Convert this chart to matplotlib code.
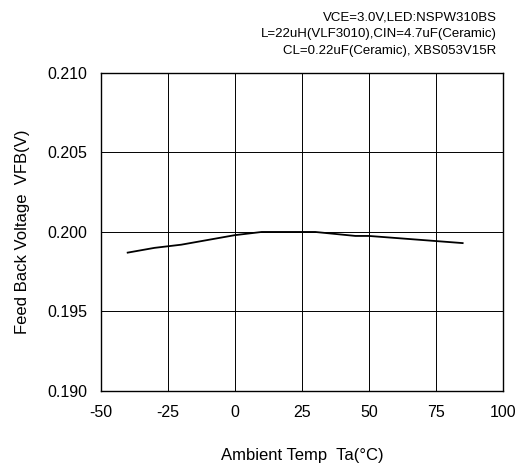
import matplotlib.pyplot as plt
import numpy as np

plt.rcParams['font.family'] = ['Liberation Sans', 'DejaVu Sans']
plt.rcParams['axes.unicode_minus'] = False

# 读图估计的数据
temp = [-40, -30, -20, 0, 10, 30, 45, 50, 85]
vfb = [0.1987, 0.1990, 0.1992, 0.1998, 0.2000, 0.2000, 0.19975, 0.19975, 0.1993]
xticks = [-50, -25, 0, 25, 50, 75, 100]
yticks = [0.190, 0.195, 0.200, 0.205, 0.210]
cond = ['VCE=3.0V,LED:NSPW310BS',
        'L=22uH(VLF3010),CIN=4.7uF(Ceramic)',
        'CL=0.22uF(Ceramic), XBS053V15R']

fig = plt.figure(figsize=(5.2, 4.71), dpi=100)
ax = fig.add_axes([0.194, 0.170, 0.773, 0.675])
ax.plot(temp, vfb, color='black', lw=1.3)
ax.set_xlim(-50, 100)
ax.set_ylim(0.190, 0.210)
ax.set_xticks(xticks)
ax.set_yticks(yticks)
ax.set_yticklabels(['%.3f' % v for v in yticks])
ax.grid(True, color='black', lw=0.7)
ax.tick_params(length=0, labelsize=11.5)
ax.tick_params(axis='x', pad=10)
ax.tick_params(axis='y', pad=10)
for s in ax.spines.values():
    s.set_linewidth(1.0)
ax.set_xlabel('Ambient Temp  Ta(°C)', fontsize=12, labelpad=20)
ax.set_ylabel('Feed Back Voltage  VFB(V)', fontsize=12, labelpad=12)

fig.text(0.955, 0.975, '\n'.join(cond), ha='right', va='top', fontsize=9.5, linespacing=1.5)

fig.savefig('out.png', dpi=100)
